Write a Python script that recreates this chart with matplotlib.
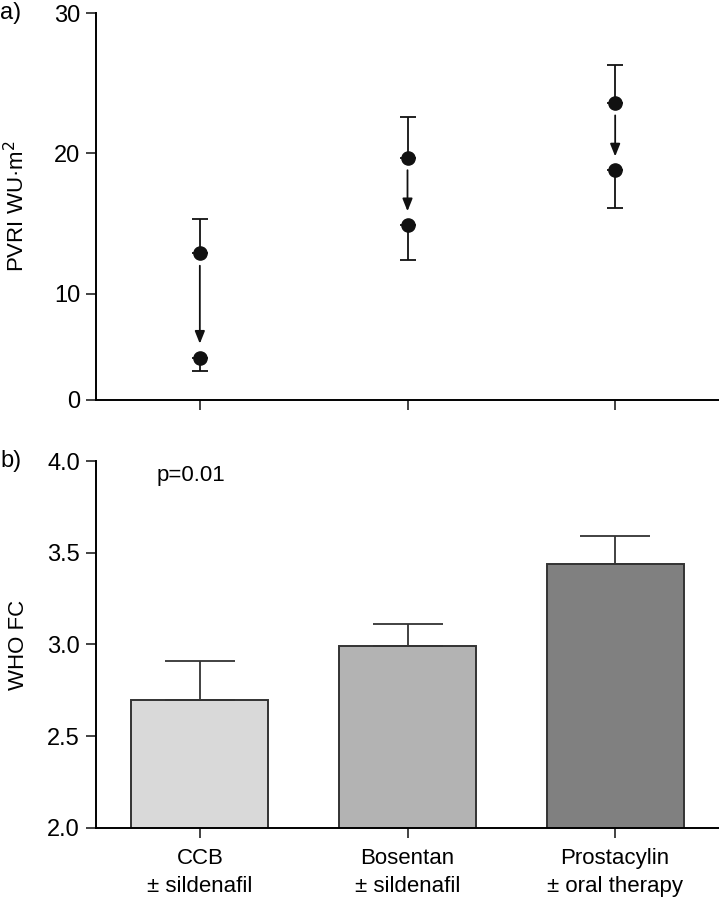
import numpy as np
import matplotlib
matplotlib.use("Agg")
import matplotlib.pyplot as plt

plt.rcParams['font.family'] = ['Liberation Sans', 'DejaVu Sans']

# groups
groups = ["CCB\n± sildenafil", "Bosentan\n± sildenafil", "Prostacylin\n± oral therapy"]

# a) PVRI before -> after, with SD
pvri_before = [12.9, 19.7, 23.6]
pvri_before_sd = [2.4, 2.9, 2.7]
pvri_after = [4.0, 14.9, 18.8]
pvri_after_sd = [1.25, 2.45, 2.7]

# b) WHO FC mean +/- SE
who_fc = [2.70, 2.99, 3.44]
who_fc_se = [0.21, 0.12, 0.15]
bar_colors = ["#d9d9d9", "#b3b3b3", "#808080"]

x = np.arange(len(groups))

# the 0-10 part of the PVRI axis is drawn compressed in the original
k = 0.755
def fwd(y):
    y = np.asarray(y, dtype=float)
    return np.where(y < 10, y * k, 10 * k + (y - 10))
def inv(v):
    v = np.asarray(v, dtype=float)
    return np.where(v < 10 * k, v / k, v - 10 * k + 10)

fig = plt.figure(figsize=(7.19, 9.0), dpi=100)
axa = fig.add_axes([96/719, 1 - 400/900, 1 - 96/719, 387/900])
axb = fig.add_axes([96/719, 1 - 828/900, 1 - 96/719, 367/900])

for ax in (axa, axb):
    ax.spines['top'].set_visible(False)
    ax.spines['right'].set_visible(False)
    ax.spines['left'].set_linewidth(1.4)
    ax.spines['bottom'].set_linewidth(1.4)
    ax.tick_params(width=1.2, length=7.5, pad=4, labelsize=17, color='#222222')
    ax.set_xlim(-0.5, 2.5)

# panel a
axa.set_yscale('function', functions=(fwd, inv))
axa.set_ylim(0, 30)
axa.set_yticks([0, 10, 20, 30])
axa.set_yticklabels(["0", "10", "20", "30"])
axa.set_xticks(x)
axa.set_xticklabels([])
axa.errorbar(x, pvri_before, yerr=[np.zeros(3), pvri_before_sd], fmt='o', color='#111111',
             ms=9.5, capsize=6, elinewidth=1.3, capthick=1.3)
axa.errorbar(x, pvri_after, yerr=[pvri_after_sd, np.zeros(3)], fmt='o', color='#111111',
             ms=9.5, capsize=6, elinewidth=1.3, capthick=1.3)
for xi, b, a in zip(x, pvri_before, pvri_after):
    axa.annotate("", xy=(xi, a), xytext=(xi, b),
                 arrowprops=dict(arrowstyle='-|>,head_length=0.75,head_width=0.3',
                                 color='#111111', lw=1.3, shrinkA=9, shrinkB=10))
axa.set_ylabel("PVRI WU·m$^2$", fontsize=16)
fig.text(0, 1 - 13/900, "a)", fontsize=17, va='center', ha='left')

# panel b
axb.bar(x, who_fc, width=0.66, color=bar_colors, edgecolor='#333333', linewidth=1.4, zorder=2)
axb.errorbar(x, who_fc, yerr=[np.zeros(3), who_fc_se], fmt='none', ecolor='#333333',
             elinewidth=1.3, capsize=25, capthick=1.3, zorder=3)
axb.set_ylim(2.0, 4.0)
axb.set_yticks([2.0, 2.5, 3.0, 3.5, 4.0])
axb.set_yticklabels(["2.0", "2.5", "3.0", "3.5", "4.0"])
axb.set_xticks(x)
axb.set_xticklabels(groups, fontsize=16, linespacing=1.4)
axb.tick_params(axis='x', pad=7)
axb.set_ylabel("WHO FC", fontsize=16)
axb.text(-0.21, 3.92, "p=0.01", fontsize=16, va='center', ha='left')
fig.text(0, 1 - 461/900, "b)", fontsize=17, va='center', ha='left')

for ax in (axa, axb):
    ax.yaxis.set_label_coords(-0.108, 0.5)

fig.savefig("out.png", dpi=100)
